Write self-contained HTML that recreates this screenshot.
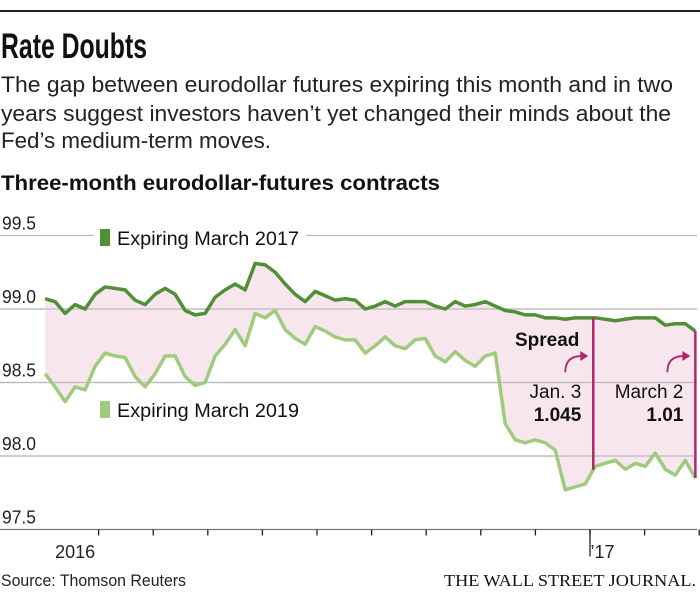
<!DOCTYPE html>
<html><head><meta charset="utf-8">
<style>
html,body{margin:0;padding:0;background:#fff;}
svg{display:block;font-family:"Liberation Sans Narrow","Liberation Sans",sans-serif;}
</style></head>
<body>
<svg id="chart" width="700" height="592" viewBox="0 0 700 592" xmlns="http://www.w3.org/2000/svg">
  <line x1="0" y1="11" x2="700" y2="11" stroke="#222" stroke-width="2"/>
  <text x="1" y="58" font-size="35" font-weight="bold" fill="#111" textLength="146" lengthAdjust="spacingAndGlyphs">Rate Doubts</text>
  <g font-size="22" fill="#222">
    <text x="1" y="92" textLength="672" lengthAdjust="spacingAndGlyphs">The gap between eurodollar futures expiring this month and in two</text>
    <text x="1" y="121" textLength="670" lengthAdjust="spacingAndGlyphs">years suggest investors haven’t yet changed their minds about the</text>
    <text x="1" y="148" textLength="270" lengthAdjust="spacingAndGlyphs">Fed’s medium-term moves.</text>
  </g>
  <text x="1" y="190" font-size="21" font-weight="bold" fill="#111" textLength="439" lengthAdjust="spacingAndGlyphs">Three-month eurodollar-futures contracts</text>
  <g id="grid"></g>
  <g id="plot"></g>
  <g id="annot"></g>
  <text x="1" y="586" font-size="17" fill="#222" textLength="185" lengthAdjust="spacingAndGlyphs">Source: Thomson Reuters</text>
  <text x="696" y="586" text-anchor="end" font-family="Liberation Serif, serif" font-size="17" fill="#111" textLength="252" lengthAdjust="spacingAndGlyphs">THE WALL STREET JOURNAL.</text>
</svg>
<script>
const yTicks = [99.5, 99.0, 98.5, 98.0, 97.5];
const yTickLabels = ["99.5", "99.0", "98.5", "98.0", "97.5"];
const monthTicks = [3, 4, 5, 6, 7, 8, 9, 10, 11, 12, 13, 14];
const xLabels = [{m: 2.57, t: "2016"}, {m: 12.23, t: "’17"}];
const startMonth = 2.02;
const stepMonth = 0.1832;
const march2017 = [99.07,99.05,98.97,99.03,99.00,99.10,99.15,99.14,99.13,99.06,99.03,99.10,99.14,99.10,98.99,98.96,98.97,99.08,99.13,99.17,99.13,99.31,99.30,99.25,99.17,99.10,99.05,99.12,99.09,99.06,99.07,
99.06,99.00,99.02,99.05,99.02,99.05,99.05,99.05,99.02,99.00,99.05,99.02,99.03,99.05,99.02,98.99,98.98,98.96,98.96,98.94,98.94,98.93,98.94,98.94,98.94,98.93,98.92,98.93,98.94,98.94,98.94,98.89,98.90,98.90,98.85];
const march2019 = [98.56,98.47,98.37,98.47,98.45,98.61,98.70,98.68,98.67,98.54,98.47,98.56,98.68,98.68,98.54,98.48,98.50,98.68,98.76,98.86,98.75,98.97,98.94,98.99,98.86,98.80,98.76,98.88,98.85,98.81,98.79,
98.79,98.70,98.75,98.81,98.75,98.73,98.79,98.80,98.68,98.64,98.71,98.65,98.61,98.68,98.70,98.22,98.11,98.09,98.11,98.09,98.04,97.77,97.79,97.81,97.93,97.95,97.97,97.91,97.95,97.93,98.02,97.91,97.87,97.97,97.85];
const spreadMarks = [{m: 12.06, label: "Jan. 3", value: "1.045"}, {m: 13.93, label: "March 2", value: "1.01"}];

const NS = "http://www.w3.org/2000/svg";
function yS(v){ return 309 - (v - 99) * 147; }
function xS(m){ return 590 + (m - 12) * 54.6; }
function mk(tag, attrs, parent){ const e = document.createElementNS(NS, tag); for (const k in attrs) e.setAttribute(k, attrs[k]); parent.appendChild(e); return e; }
const grid = document.getElementById('grid'), plot = document.getElementById('plot'), annot = document.getElementById('annot');

yTicks.forEach((v, i) => {
  const l = mk('line', {x1: 0, x2: 697, y1: yS(v), y2: yS(v), stroke: i === 4 ? '#777' : '#bbb', 'stroke-width': i === 4 ? 1.3 : 1.2}, grid);
  
  
  const t = mk('text', {x: 2, y: yS(v) - 6, 'font-size': 18, fill: '#222', textLength: 34, lengthAdjust: 'spacingAndGlyphs'}, grid);
  t.textContent = yTickLabels[i];
  
  
});
monthTicks.forEach(m => {
  const l = mk('line', {x1: xS(m), x2: xS(m), y1: yS(97.5), y2: yS(97.5) + 6, stroke: '#222', 'stroke-width': 1.3}, grid);
  
  
});
const yr = mk('line', {x1: xS(12), x2: xS(12), y1: yS(97.5), y2: yS(97.5) + 27, stroke: '#222', 'stroke-width': 1.3}, grid);


xLabels.forEach(d => {
  const t = mk('text', {x: xS(d.m), y: 558, 'font-size': 18, fill: '#222', 'text-anchor': 'middle'}, grid);
  t.textContent = d.t;
  
  
});

const pts = (arr) => arr.map((v, i) => [xS(startMonth + i * stepMonth), yS(v)]);
const p17 = pts(march2017), p19 = pts(march2019);
const fillD = 'M' + p17.map(p => p.join(',')).join('L') + 'L' + p19.slice().reverse().map(p => p.join(',')).join('L') + 'Z';
const fill = mk('path', {d: fillD, fill: '#f8e6ef'}, plot);


yTicks.slice(1, 4).forEach(v => {
  const l = mk('line', {x1: 0, x2: 697, y1: yS(v), y2: yS(v), stroke: '#bbb', 'stroke-width': 1.2}, plot);
  
  
});
const l19 = mk('path', {d: 'M' + p19.map(p => p.join(',')).join('L'), fill: 'none', stroke: '#9fcc7c', 'stroke-width': 3.5, 'stroke-linejoin': 'round'}, plot);


const l17 = mk('path', {d: 'M' + p17.map(p => p.join(',')).join('L'), fill: 'none', stroke: '#4f8f35', 'stroke-width': 3.5, 'stroke-linejoin': 'round'}, plot);



function interp(arr, m){ const f = (m - startMonth) / stepMonth; const i = Math.max(0, Math.min(arr.length - 2, Math.floor(f))); const t = Math.min(1, f - i); return arr[i] * (1 - t) + arr[i + 1] * t; }
spreadMarks.forEach(s => {
  const x = xS(s.m);
  const l = mk('line', {x1: x, x2: x, y1: yS(interp(march2017, s.m)), y2: yS(interp(march2019, s.m)), stroke: '#b0286a', 'stroke-width': 2.5}, annot);
  
  
  const a = mk('path', {d: `M${x-28},${yS(98.57)} Q${x-28},${yS(98.68)} ${x-12},${yS(98.68)}`, fill: 'none', stroke: '#b0286a', 'stroke-width': 1.8}, annot);
  
  
  const ah = mk('path', {d: `M${x-5},${yS(98.68)} L${x-13},${yS(98.68)-5} L${x-13},${yS(98.68)+5} Z`, fill: '#b0286a'}, annot);
  
  
  const t1 = mk('text', {x: x - 12, y: 398, 'font-size': 19, fill: '#111', 'text-anchor': 'end'}, annot);
  t1.textContent = s.label;
  
  
  const t2 = mk('text', {x: x - 12, y: 421, 'font-size': 19, 'font-weight': 'bold', fill: '#111', 'text-anchor': 'end'}, annot);
  t2.textContent = s.value;
  
  
});
const sp = mk('text', {x: 515, y: 346, 'font-size': 19, 'font-weight': 'bold', fill: '#111'}, annot);
sp.textContent = 'Spread';



[[1, '#4f8f35', 'Expiring March 2017', 'legend-entry-2017', 245], [0, '#9fcc7c', 'Expiring March 2019', 'legend-entry-2019', 417]].forEach(d => {
  const g = mk('g', {}, annot);
  
  
  if (d[0]) mk('rect', {x: 94, y: d[4] - 16, width: 212, height: 20, fill: '#fff'}, g);
  mk('rect', {x: 100, y: d[4] - 16, width: 10, height: 17, fill: d[1]}, g);
  const t = mk('text', {x: 117, y: d[4], 'font-size': 19, fill: '#111', textLength: 182, lengthAdjust: 'spacingAndGlyphs'}, g);
  t.textContent = d[2];
});
</script>
</body></html>
